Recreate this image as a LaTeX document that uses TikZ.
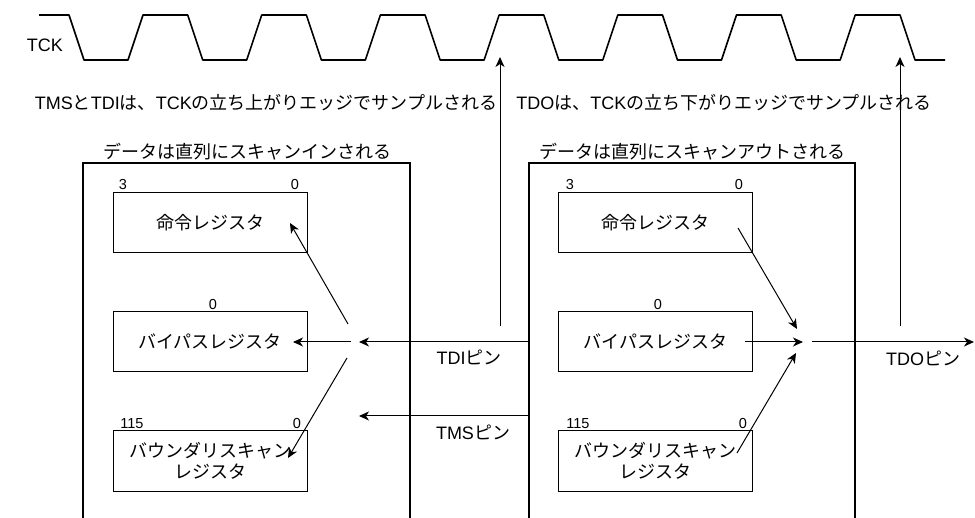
\documentclass[tikz,border=0pt]{standalone}
\usepackage{fontspec}
\setmainfont{Liberation Sans}
\newfontfamily\jpfont{Noto Sans CJK JP}
\newcommand\jpt[1]{{\jpfont #1}}
\usetikzlibrary{arrows.meta}
\begin{document}
\begin{tikzpicture}[x=1pt,y=-1pt,
  every node/.style={inner sep=0pt, font=\fontsize{18}{21}\selectfont},
  num/.style={font=\fontsize{14.5}{16}\selectfont},
  reg/.style={draw, line width=1pt, minimum width=194pt, minimum height=60pt, align=center, font=\jpfont\fontsize{18}{21}\selectfont},
  frame/.style={line width=2pt},
  conn/.style={line width=1pt, -{Stealth[length=10pt,width=9pt,inset=3pt]}},
  plain/.style={line width=1pt},
  wave/.style={line width=1.6pt, line join=round}]
\useasboundingbox (0,0) rectangle (975,518);

% clock
\node (tck) at (45,45) {TCK};
\draw[wave] (39,15) \foreach \k in {0,...,6} { -- ({69+118.7*\k},15) -- ({84+118.7*\k},60) -- ({128+118.7*\k},60) -- ({143+118.7*\k},15) } -- (900,15) -- (915,60) -- (945,60);

% sampling texts
\node (rise) at (266,103) {TMS\jpt{と}TDI\jpt{は、}TCK\jpt{の立ち上がりエッジでサンプルされる}};
\node (fall) at (724,103) {TDO\jpt{は、}TCK\jpt{の立ち下がりエッジでサンプルされる}};

% frames
\node (titleL) at (247,152) {\jpt{データは直列にスキャンインされる}};
\node (titleR) at (692,152) {\jpt{データは直列にスキャンアウトされる}};
\draw[frame] (83,519) -- (83,163) -- (410,163) -- (410,519);
\draw[frame] (529,519) -- (529,163) -- (855,163) -- (855,519);

% left registers
\node[reg] (irL) at (210,223) {命令レジスタ};
\node[reg] (bpL) at (210,341.5) {バイパスレジスタ};
\node[reg] (bsL) at (210,461) {バウンダリスキャン\\レジスタ};
\node[num] (irL3) at (123,185) {3};
\node[num] (irL0) at (295,185) {0};
\node[num] (bpL0) at (213,305) {0};
\node[num] (bsL115) at (132,424) {115};
\node[num] (bsL0) at (297,424) {0};

% right registers
\node[reg] (irR) at (655.5,223) {命令レジスタ};
\node[reg] (bpR) at (655.5,341.5) {バイパスレジスタ};
\node[reg] (bsR) at (655.5,461) {バウンダリスキャン\\レジスタ};
\node[num] (irR3) at (570,185) {3};
\node[num] (irR0) at (739,185) {0};
\node[num] (bpR0) at (658,305) {0};
\node[num] (bsR115) at (578,424) {115};
\node[num] (bsR0) at (743,424) {0};

% pin labels
\node (tdi) at (469,357) {TDI\jpt{ピン}};
\node (tms) at (473,432) {TMS\jpt{ピン}};
\node (tdo) at (923,358) {TDO\jpt{ピン}};

% connection points
\coordinate (tdiS) at (529,342);
\coordinate (tdiT) at (359,342);
\coordinate (tmsS) at (529,416);
\coordinate (tmsT) at (359,416);
\coordinate (hubB) at (351,342);
\coordinate (hubI) at (348,324);
\coordinate (hubS) at (347,358);
\coordinate (irLT) at (290,223);
\coordinate (bpLT) at (293,342);
\coordinate (bsLT) at (288,458);
\coordinate (irRS) at (738,228);
\coordinate (bpRS) at (745,342);
\coordinate (bsRS) at (737,453);
\coordinate (hubRI) at (797,329);
\coordinate (hubRB) at (803,342);
\coordinate (hubRS) at (796,353);
\coordinate (tdoS) at (812,342);
\coordinate (tdoT) at (974,342);
\coordinate (riseB) at (500,326);
\coordinate (riseT) at (500,57);
\coordinate (fallB) at (900,326);
\coordinate (fallT) at (900,57);

\draw[conn] (tdiS) -- (tdiT);
\draw[conn] (tmsS) -- (tmsT);
\draw[conn] (hubB) -- (bpLT);
\draw[conn] (hubI) -- (irLT);
\draw[conn] (hubS) -- (bsLT);
\draw[conn] (bpRS) -- (hubRB);
\draw[conn] (irRS) -- (hubRI);
\draw[conn] (bsRS) -- (hubRS);
\draw[conn] (tdoS) -- (tdoT);
\draw[conn] (riseB) -- (riseT);
\draw[conn] (fallB) -- (fallT);
\end{tikzpicture}
\end{document}
